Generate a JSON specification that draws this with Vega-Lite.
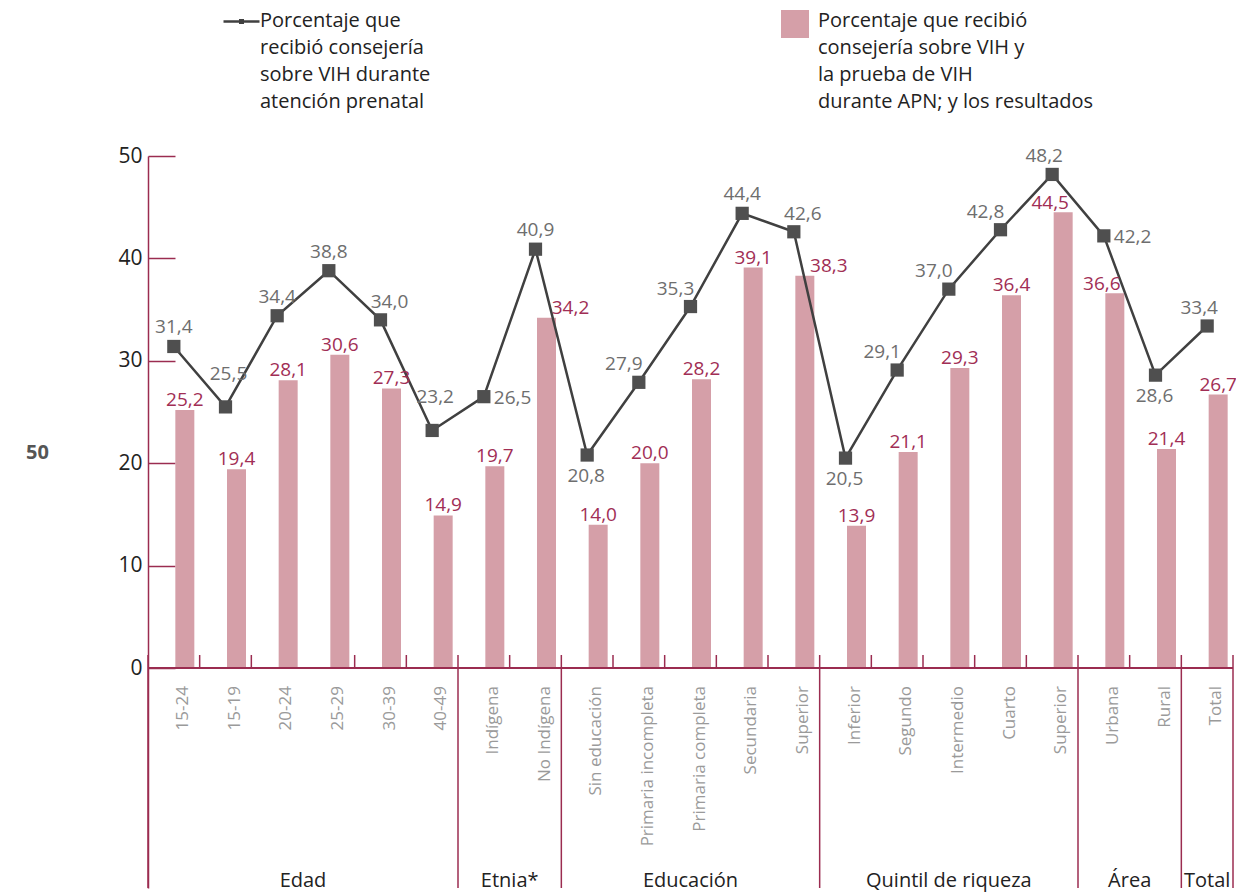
{
  "$schema": "https://vega.github.io/schema/vega-lite/v6.json",
  "width": 1085,
  "height": 732,
  "autosize": {"type": "none"},
  "padding": {"left": 148, "top": 156, "right": 3, "bottom": 6},
  "background": "white",
  "config": {
    "view": {"stroke": null},
    "font": "Open Sans",
    "locale": {"number": {"decimal": ",", "thousands": ".", "grouping": [3], "currency": ["", ""]}}
  },
  "data": {
    "values": [
      {"key": "15-24", "cat": "15-24", "group": "Edad", "line": 31.4, "bar": 25.2},
      {"key": "15-19", "cat": "15-19", "group": "Edad", "line": 25.5, "bar": 19.4},
      {"key": "20-24", "cat": "20-24", "group": "Edad", "line": 34.4, "bar": 28.1},
      {"key": "25-29", "cat": "25-29", "group": "Edad", "line": 38.8, "bar": 30.6},
      {"key": "30-39", "cat": "30-39", "group": "Edad", "line": 34.0, "bar": 27.3},
      {"key": "40-49", "cat": "40-49", "group": "Edad", "line": 23.2, "bar": 14.9},
      {"key": "Indígena", "cat": "Indígena", "group": "Etnia*", "line": 26.5, "bar": 19.7},
      {"key": "No Indígena", "cat": "No Indígena", "group": "Etnia*", "line": 40.9, "bar": 34.2},
      {"key": "Sin educación", "cat": "Sin educación", "group": "Educación", "line": 20.8, "bar": 14.0},
      {"key": "Primaria incompleta", "cat": "Primaria incompleta", "group": "Educación", "line": 27.9, "bar": 20.0},
      {"key": "Primaria completa", "cat": "Primaria completa", "group": "Educación", "line": 35.3, "bar": 28.2},
      {"key": "Secundaria", "cat": "Secundaria", "group": "Educación", "line": 44.4, "bar": 39.1},
      {"key": "Superior (educación)", "cat": "Superior", "group": "Educación", "line": 42.6, "bar": 38.3},
      {"key": "Inferior", "cat": "Inferior", "group": "Quintil de riqueza", "line": 20.5, "bar": 13.9},
      {"key": "Segundo", "cat": "Segundo", "group": "Quintil de riqueza", "line": 29.1, "bar": 21.1},
      {"key": "Intermedio", "cat": "Intermedio", "group": "Quintil de riqueza", "line": 37.0, "bar": 29.3},
      {"key": "Cuarto", "cat": "Cuarto", "group": "Quintil de riqueza", "line": 42.8, "bar": 36.4},
      {"key": "Superior (quintil)", "cat": "Superior", "group": "Quintil de riqueza", "line": 48.2, "bar": 44.5},
      {"key": "Urbana", "cat": "Urbana", "group": "Área", "line": 42.2, "bar": 36.6},
      {"key": "Rural", "cat": "Rural", "group": "Área", "line": 28.6, "bar": 21.4},
      {"key": "Total", "cat": "Total", "group": "Total", "line": 33.4, "bar": 26.7}
    ]
  },
  "layer": [
    {
      "mark": {"type": "bar", "size": 19, "xOffset": 11},
      "encoding": {
        "x": {"field": "key", "type": "nominal", "sort": null, "axis": null,
          "scale": {"paddingInner": 0, "paddingOuter": 0,
            "domain": ["15-24","15-19","20-24","25-29","30-39","40-49","Indígena","No Indígena","Sin educación","Primaria incompleta","Primaria completa","Secundaria","Superior (educación)","Inferior","Segundo","Intermedio","Cuarto","Superior (quintil)","Urbana","Rural","Total"]}},
        "y": {"field": "bar", "type": "quantitative", "title": "50",
          "scale": {"domain": [-21.48, 50], "nice": false, "zero": false},
          "axis": {"values": [0, 10, 20, 30, 40, 50], "grid": false,
            "domainColor": "#9b2c50", "domainWidth": 1.5, "tickColor": "#9b2c50", "tickWidth": 1.5,
            "tickSize": -27, "labelPadding": 33, "labelFontSize": 21, "labelColor": "#222222",
            "title": "50", "titleAngle": 0, "titleX": -111, "titleY": 296, "titleAlign": "center",
            "titleBaseline": "middle", "titleFontSize": 20, "titleFontWeight": "bold", "titleColor": "#555555"}},
        "fill": {"datum": "barra", "scale": {"range": ["#d59fa8"]},
          "legend": {"orient": "none", "legendX": 633, "legendY": -146, "title": null, "padding": 0,
            "symbolType": "square", "symbolSize": 784, "symbolStrokeWidth": 0,
            "labelFontSize": 20, "labelColor": "#222222", "labelOffset": 9, "labelBaseline": "top", "labelLimit": 500,
            "labelExpr": "['Porcentaje que recibió','consejería sobre VIH y','la prueba de VIH','durante APN; y los resultados']",
            "encode": {"labels": {"update": {"lineHeight": {"value": 27}, "dy": {"value": -13}}}}}}
      }
    },
    {
      "mark": {"type": "line", "strokeWidth": 2.5},
      "encoding": {
        "x": {"field": "key", "type": "nominal", "sort": null},
        "y": {"field": "line", "type": "quantitative"},
        "stroke": {"datum": "linea", "scale": {"range": ["#404040"]},
          "legend": {"orient": "none", "legendX": 74, "legendY": -154, "title": null, "padding": 0,
            "symbolType": "M-1,0L1,0M-0.07,-0.07L0.07,-0.07L0.07,0.07L-0.07,0.07Z", "symbolSize": 1296,
            "symbolStrokeWidth": 2.5, "symbolFillColor": "#4f4f4f",
            "labelFontSize": 20, "labelColor": "#222222", "labelOffset": -1, "labelBaseline": "top", "labelLimit": 500,
            "labelExpr": "['Porcentaje que','recibió consejería','sobre VIH durante','atención prenatal']",
            "encode": {"labels": {"update": {"lineHeight": {"value": 27}, "dy": {"value": -11}}}}}}
      }
    },
    {
      "mark": {"type": "point", "shape": "square", "filled": true, "size": 175, "color": "#4f4f4f", "opacity": 1},
      "encoding": {
        "x": {"field": "key", "type": "nominal", "sort": null},
        "y": {"field": "line", "type": "quantitative"}
      }
    },
    {
      "transform": [{"filter": {"not": {"field": "key", "oneOf": ["No Indígena", "Superior (educación)", "Urbana", "Superior (quintil)"]}}}],
      "mark": {"type": "text", "xOffset": 11, "yOffset": -10, "baseline": "middle", "fontSize": 19, "color": "#a12e55"},
      "encoding": {
        "x": {"field": "key", "type": "nominal", "sort": null},
        "y": {"field": "bar", "type": "quantitative"},
        "text": {"field": "bar", "type": "quantitative", "format": ".1f"}
      }
    },
    {
      "transform": [{"filter": {"field": "key", "oneOf": ["No Indígena", "Superior (educación)"]}}],
      "mark": {"type": "text", "xOffset": 35, "yOffset": -10, "baseline": "middle", "fontSize": 19, "color": "#a12e55"},
      "encoding": {
        "x": {"field": "key", "type": "nominal", "sort": null},
        "y": {"field": "bar", "type": "quantitative"},
        "text": {"field": "bar", "type": "quantitative", "format": ".1f"}
      }
    },
    {
      "transform": [{"filter": {"field": "key", "oneOf": ["Urbana", "Superior (quintil)"]}}],
      "mark": {"type": "text", "xOffset": -2, "yOffset": -9, "baseline": "middle", "fontSize": 19, "color": "#a12e55"},
      "encoding": {
        "x": {"field": "key", "type": "nominal", "sort": null},
        "y": {"field": "bar", "type": "quantitative"},
        "text": {"field": "bar", "type": "quantitative", "format": ".1f"}
      }
    },
    {
      "transform": [{"filter": {"field": "key", "oneOf": ["15-24", "20-24", "25-29", "No Indígena", "Secundaria"]}}],
      "mark": {"type": "text", "xOffset": 0, "yOffset": -19, "baseline": "middle", "fontSize": 19, "color": "#6e6e6e"},
      "encoding": {
        "x": {"field": "key", "type": "nominal", "sort": null},
        "y": {"field": "line", "type": "quantitative"},
        "text": {"field": "line", "type": "quantitative", "format": ".1f"}
      }
    },
    {
      "transform": [{"filter": {"field": "key", "oneOf": ["30-39", "Superior (educación)"]}}],
      "mark": {"type": "text", "xOffset": 9, "yOffset": -18, "baseline": "middle", "fontSize": 19, "color": "#6e6e6e"},
      "encoding": {
        "x": {"field": "key", "type": "nominal", "sort": null},
        "y": {"field": "line", "type": "quantitative"},
        "text": {"field": "line", "type": "quantitative", "format": ".1f"}
      }
    },
    {
      "transform": [{"filter": {"field": "key", "oneOf": ["Superior (quintil)", "Total"]}}],
      "mark": {"type": "text", "xOffset": -8, "yOffset": -18, "baseline": "middle", "fontSize": 19, "color": "#6e6e6e"},
      "encoding": {
        "x": {"field": "key", "type": "nominal", "sort": null},
        "y": {"field": "line", "type": "quantitative"},
        "text": {"field": "line", "type": "quantitative", "format": ".1f"}
      }
    },
    {
      "transform": [{"filter": {"field": "key", "oneOf": ["Primaria incompleta", "Primaria completa", "Segundo", "Intermedio", "Cuarto"]}}],
      "mark": {"type": "text", "xOffset": -15, "yOffset": -18, "baseline": "middle", "fontSize": 19, "color": "#6e6e6e"},
      "encoding": {
        "x": {"field": "key", "type": "nominal", "sort": null},
        "y": {"field": "line", "type": "quantitative"},
        "text": {"field": "line", "type": "quantitative", "format": ".1f"}
      }
    },
    {
      "transform": [{"filter": {"field": "key", "oneOf": ["15-19", "40-49"]}}],
      "mark": {"type": "text", "xOffset": 3, "yOffset": -33, "baseline": "middle", "fontSize": 19, "color": "#6e6e6e"},
      "encoding": {
        "x": {"field": "key", "type": "nominal", "sort": null},
        "y": {"field": "line", "type": "quantitative"},
        "text": {"field": "line", "type": "quantitative", "format": ".1f"}
      }
    },
    {
      "transform": [{"filter": {"field": "key", "oneOf": ["Sin educación", "Inferior", "Rural"]}}],
      "mark": {"type": "text", "xOffset": -1, "yOffset": 21, "baseline": "middle", "fontSize": 19, "color": "#6e6e6e"},
      "encoding": {
        "x": {"field": "key", "type": "nominal", "sort": null},
        "y": {"field": "line", "type": "quantitative"},
        "text": {"field": "line", "type": "quantitative", "format": ".1f"}
      }
    },
    {
      "transform": [{"filter": {"field": "key", "oneOf": ["Indígena", "Urbana"]}}],
      "mark": {"type": "text", "align": "left", "xOffset": 10, "yOffset": 1, "baseline": "middle", "fontSize": 19, "color": "#6e6e6e"},
      "encoding": {
        "x": {"field": "key", "type": "nominal", "sort": null},
        "y": {"field": "line", "type": "quantitative"},
        "text": {"field": "line", "type": "quantitative", "format": ".1f"}
      }
    },
    {
      "mark": {"type": "text", "angle": 270, "align": "right", "baseline": "middle", "xOffset": 9, "yOffset": 18, "fontSize": 17, "color": "#9a9a9a"},
      "encoding": {
        "x": {"field": "key", "type": "nominal", "sort": null},
        "y": {"datum": 0},
        "text": {"field": "cat", "type": "nominal"}
      }
    },
    {
      "mark": {"type": "rule", "color": "#9b2c50", "strokeWidth": 1.5},
      "encoding": {"y": {"datum": 0}}
    },
    {
      "transform": [{"filter": {"field": "key", "oneOf": ["15-19", "20-24", "30-39", "40-49", "No Indígena", "Primaria incompleta", "Primaria completa", "Secundaria", "Superior (educación)", "Segundo", "Intermedio", "Cuarto", "Superior (quintil)", "Rural"]}}],
      "mark": {"type": "rule", "color": "#9b2c50", "strokeWidth": 1.5},
      "encoding": {
        "x": {"field": "key", "type": "nominal", "sort": null, "bandPosition": 0},
        "y": {"datum": 0},
        "y2": {"datum": 1.27}
      }
    },
    {
      "transform": [{"filter": {"field": "key", "oneOf": ["15-24", "Indígena", "Sin educación", "Inferior", "Urbana", "Total"]}}],
      "mark": {"type": "rule", "color": "#9b2c50", "strokeWidth": 1.5},
      "encoding": {
        "x": {"field": "key", "type": "nominal", "sort": null, "bandPosition": 0},
        "y": {"datum": -21.48},
        "y2": {"datum": 1.27}
      }
    },
    {
      "transform": [{"filter": {"field": "key", "equal": "Total"}}],
      "mark": {"type": "rule", "color": "#9b2c50", "strokeWidth": 1.5},
      "encoding": {
        "x": {"field": "key", "type": "nominal", "sort": null, "bandPosition": 1},
        "y": {"datum": -21.48},
        "y2": {"datum": 1.27}
      }
    },
    {
      "transform": [{"filter": {"field": "key", "oneOf": ["25-29", "No Indígena", "Rural"]}}],
      "mark": {"type": "text", "baseline": "alphabetic", "yOffset": -1, "fontSize": 20, "color": "#222222"},
      "encoding": {
        "x": {"field": "key", "type": "nominal", "sort": null, "bandPosition": 0},
        "y": {"datum": -21.48},
        "text": {"field": "group", "type": "nominal"}
      }
    },
    {
      "transform": [{"filter": {"field": "key", "oneOf": ["Primaria completa", "Intermedio", "Total"]}}],
      "mark": {"type": "text", "baseline": "alphabetic", "yOffset": -1, "fontSize": 20, "color": "#222222"},
      "encoding": {
        "x": {"field": "key", "type": "nominal", "sort": null, "bandPosition": 0.5},
        "y": {"datum": -21.48},
        "text": {"field": "group", "type": "nominal"}
      }
    }
  ]
}
